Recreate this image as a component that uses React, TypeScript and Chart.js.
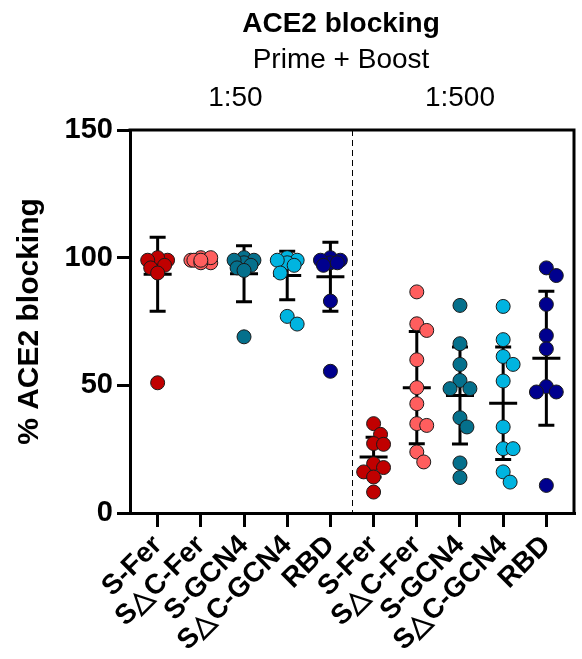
import React, { useEffect, useRef } from 'react';
import { Chart, registerables } from 'chart.js';
Chart.register(...registerables);

const FONT = "'Liberation Sans', Arial, sans-serif";

const categories = ['S-Fer', 'S△C-Fer', 'S-GCN4', 'S△C-GCN4', 'RBD', 'S-Fer', 'S△C-Fer', 'S-GCN4', 'S△C-GCN4', 'RBD'];
const groupColors = ['#C00000', '#FF5E5E', '#05708C', '#00B4E0', '#00008E'];

// 1:50 dilution
const sFer50 = [99, 98, 100, 97, 99, 96, 94, 51];
const sdcFer50 = [100, 99, 99, 98, 100, 99, 98, 99];
const sGcn50 = [100, 99, 98, 97, 99, 96, 95, 69];
const sdcGcn50 = [100, 99, 98, 99, 97, 94, 77, 74];
const rbd50 = [100, 99, 98, 99, 97, 98, 83, 55.5];
// 1:500 dilution
const sFer500 = [35, 30.8, 27.2, 26.9, 19.3, 17.8, 16.1, 14.1, 8.2];
const sdcFer500 = [86.6, 74.1, 71.5, 60, 49.1, 42.8, 35, 34.3, 23.9, 20];
const sGcn500 = [81.3, 66.3, 58.2, 51.9, 48.7, 48.7, 37.3, 33.7, 19.6, 13.9];
const sdcGcn500 = [80.9, 67.9, 61.3, 58.2, 51.7, 33.7, 25.2, 25.2, 16.1, 12.1];
const rbd500 = [96, 93, 81.7, 69.5, 64.3, 49.5, 47.4, 47.4, 10.8];

const groups = [sFer50, sdcFer50, sGcn50, sdcGcn50, rbd50, sFer500, sdcFer500, sGcn500, sdcGcn500, rbd500];

// mean and SD
const means = [93.5, 99, 93.7, 93, 92.5, 21.9, 49.1, 46, 43, 60.6];
const sds = [14.5, 1, 11, 9.5, 13.5, 7.8, 22, 19, 22, 26.2];

const yTicks = [0, 50, 100, 150];
const titleText = 'ACE2 blocking';
const subtitleText = 'Prime + Boost';
const dilutionLabels = ['1:50', '1:500'];
const yTitle = '% ACE2 blocking';

// simple beeswarm layout (approx px per unit used only for spacing)
const PX_PER_CAT = 43.5;
const PX_PER_VAL = 383 / 150;
function swarm(values: number[]): { x: number; y: number }[] {
  const idx = values.map((v, i) => i).sort((a, b) => values[b] - values[a]);
  const placed: { dx: number; py: number }[] = [];
  const out: { x: number; y: number }[] = new Array(values.length);
  const cands = [0, 7, -7, 10, -10];
  for (const i of idx) {
    const py = values[i] * PX_PER_VAL;
    let best = 0;
    let bestD = -1;
    for (const c of cands) {
      let minD = Infinity;
      for (const p of placed) {
        const d = Math.hypot(p.dx - c, p.py - py);
        if (d < minD) minD = d;
      }
      if (minD >= 11) { best = c; bestD = Infinity; break; }
      if (minD > bestD) { bestD = minD; best = c; }
    }
    placed.push({ dx: best, py });
    out[i] = { x: best / PX_PER_CAT, y: values[i] };
  }
  return out;
}

const errorBarPlugin = {
  id: 'errorBars',
  beforeDatasetsDraw(chart: any) {
    const { ctx, scales } = chart;
    const xs = scales.x, ys = scales.y;
    ctx.save();
    ctx.strokeStyle = '#000';
    ctx.lineWidth = 3;
    means.forEach((m, i) => {
      const x = xs.getPixelForValue(i + 1);
      const yT = ys.getPixelForValue(m + sds[i]);
      const yB = ys.getPixelForValue(m - sds[i]);
      const yM = ys.getPixelForValue(m);
      ctx.beginPath();
      ctx.moveTo(x, yT); ctx.lineTo(x, yB);
      ctx.moveTo(x - 8, yT); ctx.lineTo(x + 8, yT);
      ctx.moveTo(x - 8, yB); ctx.lineTo(x + 8, yB);
      ctx.moveTo(x - 14, yM); ctx.lineTo(x + 14, yM);
      ctx.stroke();
    });
    ctx.restore();
  },
};

const framePlugin = {
  id: 'frame',
  afterDraw(chart: any) {
    const { ctx, chartArea: a, scales } = chart;
    ctx.save();
    ctx.strokeStyle = '#000';
    ctx.lineWidth = 3;
    ctx.beginPath();
    ctx.moveTo(a.left - 1.5, a.top);
    ctx.lineTo(a.right, a.top);
    ctx.lineTo(a.right, a.bottom + 1.5);
    ctx.stroke();
    // divider between dilutions
    const xd = Math.round(scales.x.getPixelForValue(5.5)) + 0.5;
    ctx.lineWidth = 1;
    ctx.setLineDash([6, 4]);
    ctx.beginPath();
    ctx.moveTo(xd, a.top);
    ctx.lineTo(xd, a.bottom);
    ctx.stroke();
    ctx.setLineDash([]);
    // titles
    ctx.fillStyle = '#000';
    ctx.textAlign = 'center';
    ctx.textBaseline = 'middle';
    const cx = (a.left + a.right) / 2 - 11;
    ctx.font = `bold 28px ${FONT}`;
    ctx.fillText(titleText, cx, 24);
    ctx.font = `28px ${FONT}`;
    ctx.fillText(subtitleText, cx, 60);
    ctx.fillText(dilutionLabels[0], scales.x.getPixelForValue(2.8), 98);
    ctx.fillText(dilutionLabels[1], scales.x.getPixelForValue(8), 98);
    ctx.restore();
  },
};

export default function App() {
  const ref = useRef<HTMLCanvasElement>(null);
  useEffect(() => {
    document.body.style.margin = '0';
    const datasets = groups.map((g, i) => ({
      label: categories[i],
      data: swarm(g).map((p) => ({ x: p.x + i + 1, y: p.y })),
      backgroundColor: groupColors[i % 5],
      borderColor: '#1a1a1a',
      borderWidth: 1,
      pointRadius: 7,
      pointHoverRadius: 7,
    }));
    const chart = new Chart(ref.current!, {
      type: 'scatter',
      data: { datasets },
      options: {
        animation: false,
        responsive: false,
        events: [],
        layout: { padding: { top: 130, right: 4, left: 0, bottom: 0 } },
        plugins: { legend: { display: false }, tooltip: { enabled: false } },
        scales: {
          x: {
            type: 'linear',
            min: 0.36,
            max: 10.64,
            afterBuildTicks: (s: any) => { s.ticks = categories.map((_, i) => ({ value: i + 1 })); },
            afterFit: (s: any) => { s.height = 146; },
            ticks: {
              autoSkip: false,
              maxRotation: 45,
              minRotation: 45,
              padding: 2,
              color: '#000',
              font: { family: FONT, size: 28, weight: 'bold' },
              callback: (v: any) => categories[Math.round(v) - 1],
            },
            grid: { drawOnChartArea: false, drawTicks: true, tickLength: 14, lineWidth: 3, color: '#000' },
            border: { display: true, width: 3, color: '#000' },
          },
          y: {
            min: 0,
            max: 150,
            afterBuildTicks: (s: any) => { s.ticks = yTicks.map((v) => ({ value: v })); },
            afterFit: (s: any) => { s.width = 130; },
            ticks: { color: '#000', padding: 4, font: { family: FONT, size: 29, weight: 'bold' } },
            grid: { drawOnChartArea: false, drawTicks: true, tickLength: 13, lineWidth: 3, color: '#000' },
            border: { display: true, width: 3, color: '#000' },
            title: { display: true, text: yTitle, color: '#000', padding: { top: 12, bottom: 0 }, font: { family: FONT, size: 30, weight: 'bold' } },
          },
        },
      },
      plugins: [errorBarPlugin, framePlugin],
    });
    return () => chart.destroy();
  }, []);
  return <canvas ref={ref} width={582} height={659} style={{ display: 'block' }} />;
}
